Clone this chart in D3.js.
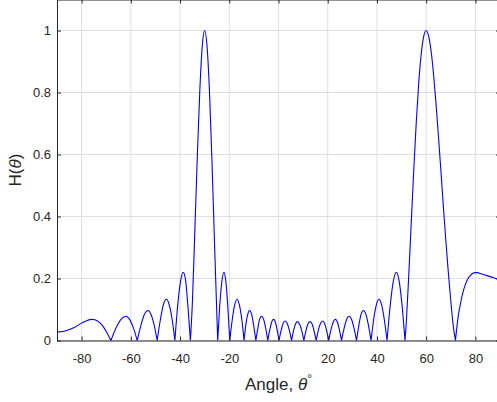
<!DOCTYPE html>
<html>
<head>
<meta charset="utf-8">
<script src="https://cdn.jsdelivr.net/npm/d3@7/dist/d3.min.js"></script>
<style>
  html, body { margin: 0; padding: 0; background: #ffffff; }
  svg { display: block; }
  text { font-family: "Liberation Sans", Arial, Helvetica, sans-serif; fill: #262626; }
</style>
</head>
<body>
<svg id="chart" width="497" height="402"></svg>
<script>
// Array response H(theta) versus look angle, beams steered to -30 and 60 degrees.
const angles = [
  -90, -86, -83, -80, -78, -75.7, -73.5, -71.5, -70, -68.1,
  -66.1, -64.0, -62.0, -60.5, -58.9, -57.4,
  -55.9, -54.5, -53.0, -51.8, -50.5, -49.3,
  -48.0, -46.8, -45.5, -44.4, -43.2, -42.1,
  -41.0, -39.8, -38.7, -37.7, -36.8, -35.8,
  -35, -34, -33, -32, -31, -30, -29, -28, -27, -26, -25, -24.7,
  -23.9, -23.0, -22.2, -21.4, -20.6, -19.8,
  -18.8, -17.8, -16.8, -15.9, -14.9, -14.0,
  -13.3, -12.5, -11.8, -10.9, -10.1, -9.2,
  -8.4, -7.7, -6.9, -6.05, -5.2, -4.35,
  -3.55, -2.8, -2.0, -1.25, -0.55, 0.2,
  1.05, 1.85, 2.7, 3.55, 4.45, 5.3,
  6.1, 6.9, 7.7, 8.55, 9.45, 10.3,
  11.15, 11.95, 12.8, 13.65, 14.45, 15.3,
  16.15, 17.05, 17.9, 18.75, 19.55, 20.4,
  21.3, 22.2, 23.1, 23.95, 24.75, 25.6,
  26.65, 27.65, 28.7, 29.7, 30.7, 31.7,
  32.65, 33.55, 34.5, 35.55, 36.55, 37.6,
  38.65, 39.75, 40.8, 41.9, 43.0, 44.1,
  45.35, 46.65, 47.9, 49.05, 50.25, 51.4,
  52, 53, 54, 55, 56, 57, 58, 59, 60, 61, 62, 63, 64, 65, 66, 67, 68, 69, 70, 71, 71.9,
  73, 74, 75, 76, 77, 78, 79, 80, 81, 82, 84, 86, 88, 90
];

const response = [
  0.027, 0.032, 0.042, 0.056, 0.064, 0.068, 0.063, 0.048, 0.029, 0,
  0.039, 0.068, 0.078, 0.068, 0.039, 0,
  0.049, 0.084, 0.097, 0.084, 0.049, 0,
  0.067, 0.115, 0.133, 0.115, 0.067, 0,
  0.110, 0.191, 0.220, 0.191, 0.110, 0,
  0.12, 0.354, 0.591, 0.801, 0.948, 1.0, 0.946, 0.794, 0.570, 0.315, 0.07, 0,
  0.110, 0.191, 0.220, 0.191, 0.110, 0,
  0.067, 0.115, 0.133, 0.115, 0.067, 0,
  0.049, 0.084, 0.097, 0.084, 0.049, 0,
  0.039, 0.068, 0.078, 0.068, 0.039, 0,
  0.034, 0.059, 0.068, 0.059, 0.034, 0,
  0.032, 0.055, 0.063, 0.055, 0.032, 0,
  0.031, 0.053, 0.061, 0.053, 0.031, 0,
  0.031, 0.053, 0.061, 0.053, 0.031, 0,
  0.032, 0.055, 0.063, 0.055, 0.032, 0,
  0.034, 0.059, 0.068, 0.059, 0.034, 0,
  0.039, 0.068, 0.078, 0.068, 0.039, 0,
  0.049, 0.084, 0.097, 0.084, 0.049, 0,
  0.067, 0.115, 0.133, 0.115, 0.067, 0,
  0.110, 0.191, 0.220, 0.191, 0.110, 0,
  0.068, 0.223, 0.390, 0.557, 0.707, 0.833, 0.925, 0.981, 1.0, 0.982, 0.934, 0.859, 0.764, 0.658, 0.546, 0.431, 0.322, 0.220, 0.128, 0.048, 0,
  0.077, 0.121, 0.157, 0.182, 0.200, 0.210, 0.217, 0.219, 0.219, 0.216, 0.211, 0.206, 0.201, 0.196
];

const xTicks = [-80, -60, -40, -20, 0, 20, 40, 60, 80];
const xTickLabels = ["-80", "-60", "-40", "-20", "0", "20", "40", "60", "80"];
const yTicks = [0, 0.2, 0.4, 0.6, 0.8, 1];
const yTickLabels = ["0", "0.2", "0.4", "0.6", "0.8", "1"];

const svg = d3.select("#chart");
const plotLeft = 57, plotRight = 500, plotTop = -0.5, plotBottom = 340.5;

const x = d3.scaleLinear().domain([-90, 90]).range([plotLeft, plotRight]);
const y = d3.scaleLinear().domain([0, 1.1]).range([plotBottom, plotTop]);

// grid
const grid = svg.append("g").attr("class", "grid");
grid.selectAll("line.gx").data(xTicks).enter().append("line")
  .attr("x1", d => x(d)).attr("x2", d => x(d))
  .attr("y1", plotTop).attr("y2", plotBottom)
  .attr("stroke", "#dfdfdf").attr("stroke-width", 1);
grid.selectAll("line.gy").data(yTicks).enter().append("line")
  .attr("x1", plotLeft).attr("x2", plotRight)
  .attr("y1", d => y(d)).attr("y2", d => y(d))
  .attr("stroke", "#dfdfdf").attr("stroke-width", 1);

// response curve: each lobe between two nulls is one smooth piece, nulls stay sharp
const pts = angles.map((a, i) => [a, response[i]]);
const pieces = [];
let cur = [];
pts.forEach(p => {
  cur.push(p);
  if (p[1] === 0 && cur.length > 1) { pieces.push(cur); cur = [p]; }
});
if (cur.length > 1) pieces.push(cur);

const line = d3.line().x(d => x(d[0])).y(d => y(d[1])).curve(d3.curveMonotoneX);
svg.append("path")
  .attr("d", pieces.map(p => line(p)).join(""))
  .attr("fill", "none")
  .attr("stroke", "#0000ff")
  .attr("stroke-width", 1.1)
  .attr("stroke-linejoin", "round");

// axes with inward ticks on all four sides
function styleAxis(g) {
  g.selectAll("path.domain").attr("stroke", "#262626");
  g.selectAll(".tick line").attr("stroke", "#262626");
  g.selectAll(".tick text").attr("font-size", 13).attr("fill", "#262626")
    .attr("font-family", "'Liberation Sans', Arial, Helvetica, sans-serif");
}

const xAxis = d3.axisBottom(x).tickValues(xTicks).tickFormat((d, i) => xTickLabels[i])
  .tickSizeInner(-4).tickSizeOuter(0).tickPadding(13);
svg.append("g").attr("transform", `translate(0,${plotBottom})`).call(xAxis).call(styleAxis);

const xTop = d3.axisTop(x).tickValues(xTicks).tickFormat("").tickSizeInner(-4).tickSizeOuter(0);
svg.append("g").attr("transform", `translate(0,${plotTop})`).call(xTop).call(styleAxis);

const yAxis = d3.axisLeft(y).tickValues(yTicks).tickFormat((d, i) => yTickLabels[i])
  .tickSizeInner(-4).tickSizeOuter(0).tickPadding(6);
svg.append("g").attr("transform", `translate(${plotLeft},0)`).call(yAxis).call(styleAxis);

const yRight = d3.axisRight(y).tickValues(yTicks).tickFormat("").tickSizeInner(-4).tickSizeOuter(0);
svg.append("g").attr("transform", `translate(${plotRight},0)`).call(yRight).call(styleAxis);

// axis labels
const xl = svg.append("text")
  .attr("x", (plotLeft + plotRight) / 2).attr("y", 390)
  .attr("text-anchor", "middle").attr("font-size", 17);
xl.append("tspan").text("Angle, ");
xl.append("tspan").attr("font-style", "italic").text("θ");
xl.append("tspan").attr("font-size", 12).attr("dy", -7).text("°");

const yl = svg.append("text")
  .attr("transform", `translate(21,${(plotTop + plotBottom) / 2}) rotate(-90)`)
  .attr("text-anchor", "middle").attr("font-size", 17);
yl.append("tspan").text("H(");
yl.append("tspan").attr("font-style", "italic").text("θ");
yl.append("tspan").text(")");
</script>
</body>
</html>
